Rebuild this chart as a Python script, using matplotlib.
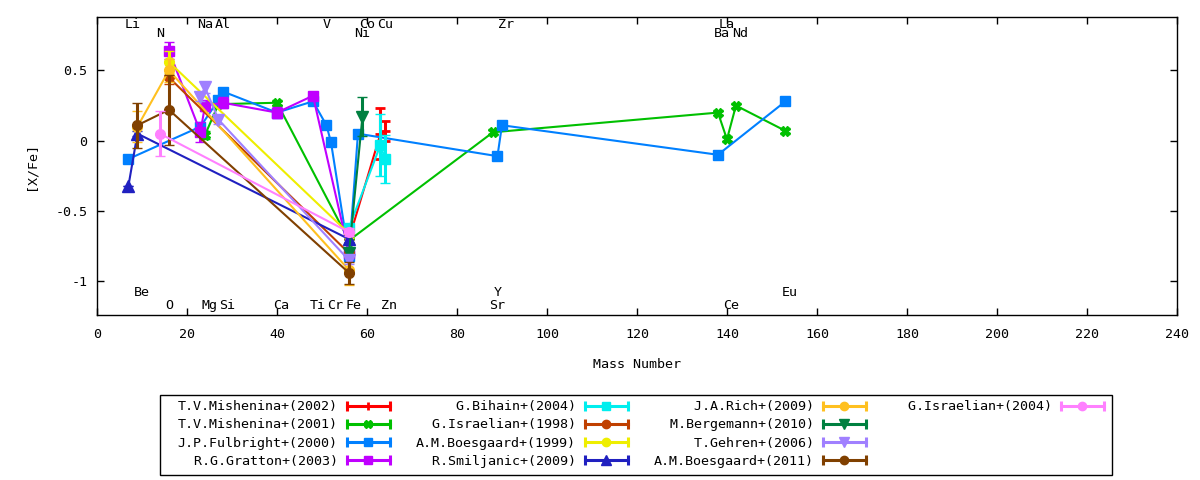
import matplotlib
matplotlib.use("Agg")
import matplotlib.pyplot as plt
from matplotlib.patches import Rectangle
from matplotlib.lines import Line2D
from matplotlib.legend_handler import HandlerBase

# ---- DATA ----
elements = ["Li", "Be", "N", "O", "Na", "Mg", "Al", "Si", "Ca", "Ti", "V", "Cr", "Fe",
            "Co", "Ni", "Cu", "Zn", "Sr", "Y", "Zr", "Ba", "La", "Ce", "Nd", "Eu"]
mass_numbers = [7, 9, 14, 16, 23, 24, 27, 28, 40, 48, 51, 52, 56,
                59, 58, 63, 64, 88, 89, 90, 138, 139, 140, 142, 153]
# 0/1 = upper label rows, 2/3 = lower label rows
label_row = [0, 2, 1, 3, 0, 3, 0, 3, 3, 3, 0, 3, 3,
             0, 1, 0, 3, 3, 2, 0, 1, 0, 3, 1, 2]

mish02_el = ["Fe", "Cu", "Zn"]
mish02_y = [-0.70, 0.05, 0.07]
mish02_err = [0.03, 0.18, 0.07]

mish01_el = ["Mg", "Al", "Ca", "Fe", "Sr", "Ba", "Ce", "Nd", "Eu"]
mish01_y = [0.04, 0.26, 0.27, -0.71, 0.06, 0.20, 0.01, 0.25, 0.07]
mish01_err = [0.03, 0.02, 0.02, 0.02, 0.02, 0.02, 0.02, 0.02, 0.02]

fulb_el = ["Li", "Na", "Al", "Si", "Ca", "Ti", "V", "Cr", "Fe", "Ni", "Y", "Zr", "Ba", "Eu"]
fulb_y = [-0.13, 0.10, 0.29, 0.35, 0.20, 0.28, 0.11, -0.01, -0.82, 0.05, -0.11, 0.11, -0.10, 0.28]
fulb_err = [0.0] * 14

grat_el = ["O", "Na", "Mg", "Si", "Ca", "Ti", "Fe"]
grat_y = [0.64, 0.06, 0.25, 0.27, 0.20, 0.32, -0.80]
grat_err = [0.06, 0.07, 0.04, 0.04, 0.04, 0.03, 0.03]

bih_el = ["Fe", "Cu", "Zn"]
bih_y = [-0.62, -0.03, -0.13]
bih_err = [0.03, 0.22, 0.17]

isr98_el = ["O", "Fe"]
isr98_y = [0.45, -0.80]
isr98_err = [0.05, 0.03]

boes99_el = ["O", "Fe"]
boes99_y = [0.56, -0.66]
boes99_err = [0.08, 0.03]

smil_el = ["Li", "Be", "Fe"]
smil_y = [-0.32, 0.05, -0.70]
smil_err = [0.0, 0.02, 0.03]

rich_el = ["Be", "O", "Fe"]
rich_y = [0.10, 0.50, -0.92]
rich_err = [0.11, 0.08, 0.11]

berg_el = ["Fe", "Co"]
berg_y = [-0.80, 0.17]
berg_err = [0.03, 0.14]

gehr_el = ["Na", "Mg", "Al", "Fe"]
gehr_y = [0.31, 0.38, 0.15, -0.85]
gehr_err = [0.03, 0.04, 0.03, 0.03]

boes11_el = ["Be", "O", "Fe"]
boes11_y = [0.11, 0.22, -0.94]
boes11_err = [0.16, 0.25, 0.08]

isr04_el = ["N", "Fe"]
isr04_y = [0.05, -0.65]
isr04_err = [0.16, 0.03]

authors = ["T.V.Mishenina+(2002)", "T.V.Mishenina+(2001)", "J.P.Fulbright+(2000)",
           "R.G.Gratton+(2003)", "G.Bihain+(2004)", "G.Israelian+(1998)",
           "A.M.Boesgaard+(1999)", "R.Smiljanic+(2009)", "J.A.Rich+(2009)",
           "M.Bergemann+(2010)", "T.Gehren+(2006)", "A.M.Boesgaard+(2011)",
           "G.Israelian+(2004)"]

# ---- STYLE ----
colors = ["#ff0000", "#00c000", "#0080ff", "#c000ff", "#00eeee", "#c04000",
          "#eeee00", "#2020c0", "#ffc020", "#008040", "#a080ff", "#804000", "#ff80ff"]
markers = ["+", "X", "s", "s", "s", "o", "o", "^", "o", "v", "v", "o", "o"]
label_y_levels = [0.826, 0.76, -1.08, -1.17]

plt.rcParams["font.family"] = ["DejaVu Sans Mono"]
plt.rcParams["font.size"] = 9.6


def mass_of(el_list):
    return [mass_numbers[elements.index(e)] for e in el_list]


def marker_size(m):
    return 8 if m in ("^", "v") else 7


class LegendKey:
    def __init__(self, color, marker):
        self.color = color
        self.marker = marker


class GnuplotKeyHandler(HandlerBase):
    # gnuplot-style key sample: horizontal bar with end ticks and point in the middle
    def create_artists(self, legend, orig, xd, yd, width, height, fontsize, trans):
        y = height / 2 - yd
        x0, x1 = -xd, -xd + width
        bar = Line2D([x0, x1], [y, y], color=orig.color, lw=2.2)
        ends = Line2D([x0, x1], [y, y], ls="none", marker="|", ms=7,
                      mew=2.2, color=orig.color)
        pt = Line2D([(x0 + x1) / 2], [y], ls="none", marker=orig.marker,
                    ms=marker_size(orig.marker) - 1, color=orig.color,
                    mew=2 if orig.marker == "+" else 1)
        arts = [bar, ends, pt]
        for a in arts:
            a.set_transform(trans)
        return arts


series = [
    (mish02_el, mish02_y, mish02_err),
    (mish01_el, mish01_y, mish01_err),
    (fulb_el, fulb_y, fulb_err),
    (grat_el, grat_y, grat_err),
    (bih_el, bih_y, bih_err),
    (isr98_el, isr98_y, isr98_err),
    (boes99_el, boes99_y, boes99_err),
    (smil_el, smil_y, smil_err),
    (rich_el, rich_y, rich_err),
    (berg_el, berg_y, berg_err),
    (gehr_el, gehr_y, gehr_err),
    (boes11_el, boes11_y, boes11_err),
    (isr04_el, isr04_y, isr04_err),
]

fig = plt.figure(figsize=(12, 4.8), dpi=100)
ax = fig.add_axes([0.0808, 0.34375, 0.9, 0.6208])

for i, (el, yv, ev) in enumerate(series):
    ax.errorbar(mass_of(el), yv, yerr=ev, color=colors[i], marker=markers[i],
                ms=marker_size(markers[i]), mew=2 if markers[i] == "+" else 1, lw=1.5,
                elinewidth=2.2, capsize=3.6, capthick=2.2, zorder=2 + i)

# element labels
for el, m, r in zip(elements, mass_numbers, label_row):
    ax.text(m - 0.8, label_y_levels[r], el, ha="left", va="center", fontsize=9.6)

ax.set_xlim(0, 240)
ax.set_ylim(-1.24, 0.88)
ax.set_xticks(range(0, 241, 20))
ax.set_yticks([-1, -0.5, 0, 0.5])
ax.set_yticklabels(["-1", "-0.5", "0", "0.5"])
ax.tick_params(direction="in", top=True, right=True, length=5, width=1)
ax.tick_params(axis="x", pad=9)
ax.tick_params(axis="y", pad=7)
for s in ax.spines.values():
    s.set_linewidth(1)
ax.set_xlabel("Mass Number")
ax.set_ylabel("[X/Fe]")
ax.xaxis.set_label_coords(0.5, -0.145)
ax.yaxis.set_label_coords(-0.055, 0.5)

# legend: 4 columns filled top-down, last column padded with blanks
keys = [LegendKey(c, m) for c, m in zip(colors, markers)]
blank = Line2D([], [], linestyle="none", marker=None)
leg_handles = keys + [blank, blank, blank]
leg_labels = [a.rjust(20) for a in authors] + [" " * 20] * 3
fig.legend(leg_handles, leg_labels, loc="center", ncol=4,
           bbox_to_anchor=(0.534, 0.0958), bbox_transform=fig.transFigure,
           frameon=False, markerfirst=False, handlelength=3.2,
           handletextpad=0.7, columnspacing=1.95, labelspacing=0.38,
           fontsize=9.6, handler_map={LegendKey: GnuplotKeyHandler()})
fig.patches.append(Rectangle((160 / 1200, 1 - 475 / 480), 952 / 1200, 80 / 480,
                             transform=fig.transFigure, fill=False,
                             edgecolor="black", linewidth=1))

fig.savefig("out.png", dpi=100)
